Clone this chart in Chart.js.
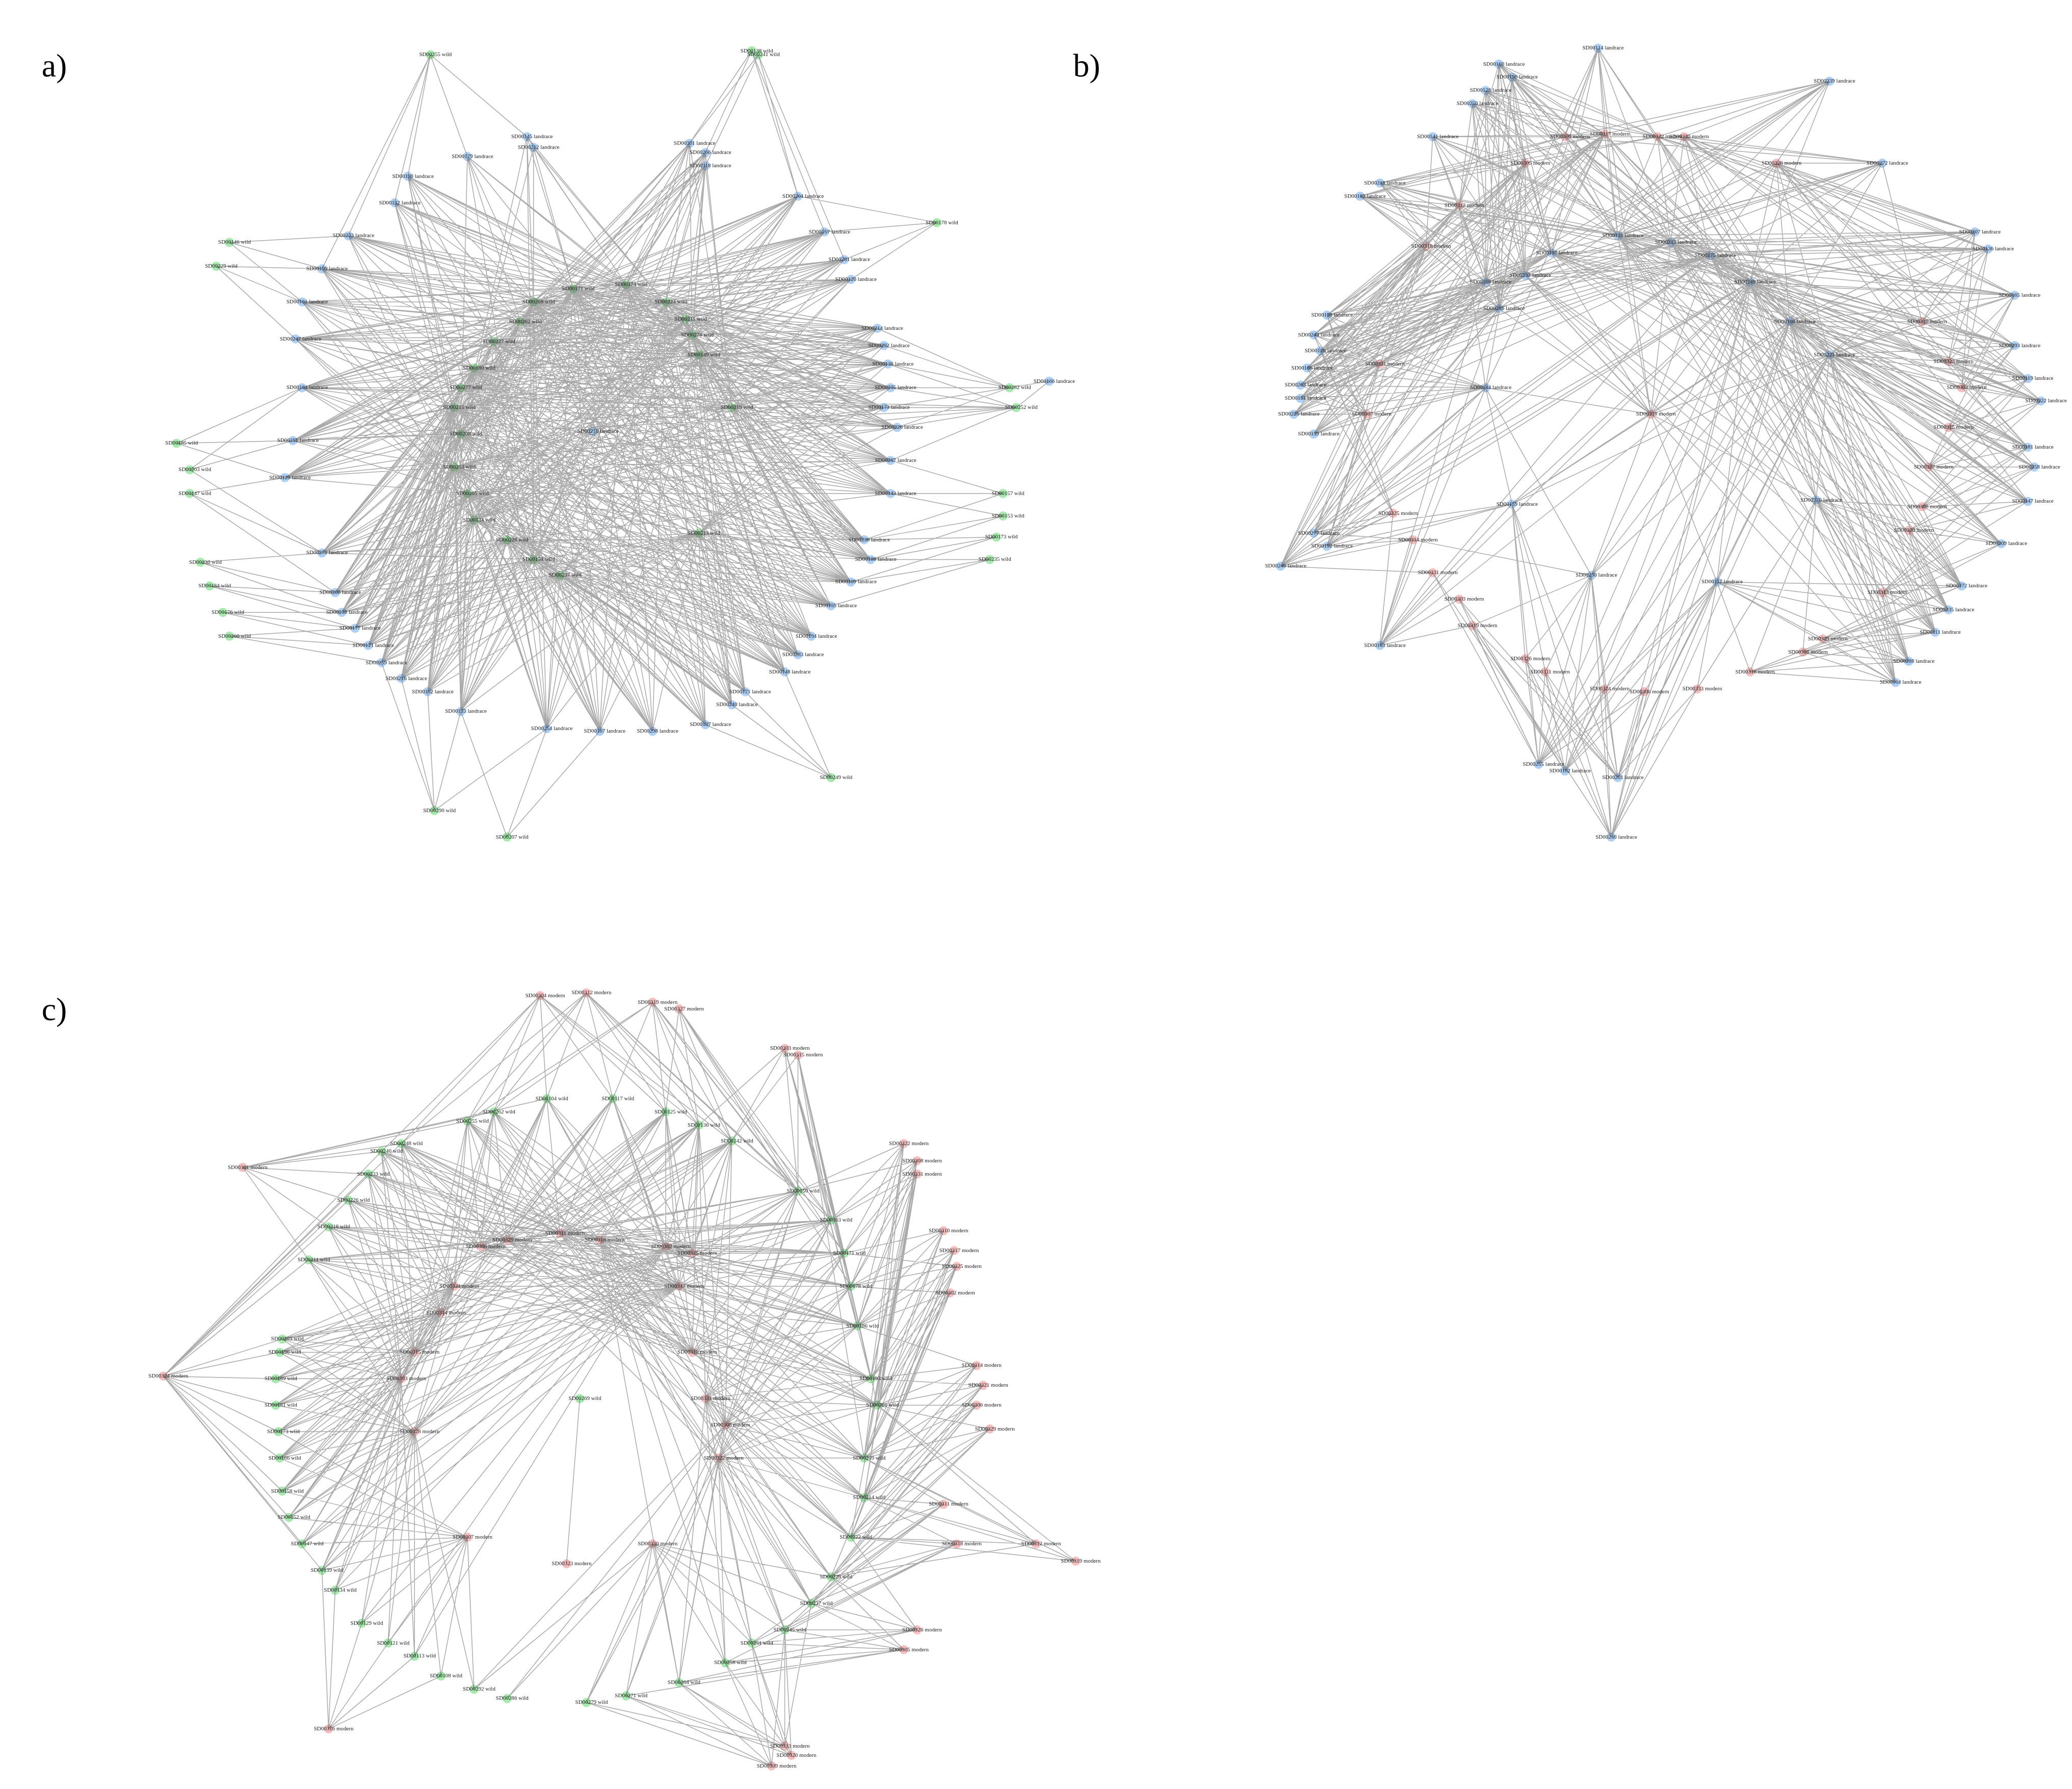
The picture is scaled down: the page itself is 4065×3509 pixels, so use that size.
<!DOCTYPE html>
<html>
<head>
<meta charset="utf-8">
<script src="https://cdn.jsdelivr.net/npm/chart.js@4.4.1/dist/chart.umd.min.js"></script>
<style>
  body { margin: 0; background: #fff; }
</style>
</head>
<body>
<canvas id="net" width="4065" height="3509"></canvas>
<script>
// node tables: [x, y, id] in figure units (1560 x 1347)
var aLandrace = [[395,100,145],[400,108,212],[350,115,179],[518,105,301],[530,112,266],[530,122,118],[305,130,190],[295,150,132],
  [600,145,204],[260,175,233],[620,172,157],[635,193,281],[240,200,199],[640,208,120],[225,225,161],[220,253,247],
  [660,245,214],[665,258,292],[668,272,138],[670,290,105],[665,305,173],[675,320,226],[225,290,184],[218,330,251],
  [212,358,129],[670,345,267],[670,370,143],[650,405,230],[655,420,188],[240,415,271],[640,437,109],[625,455,155],
  [250,445,206],[255,460,238],[265,472,177],[275,485,121],[285,498,259],[610,478,194],[600,492,283],[590,505,148],
  [300,510,216],[320,520,102],[560,520,171],[550,530,240],[345,535,133],[410,548,254],[450,550,167],[490,550,298],
  [530,545,187],[445,323,210],[790,285,166]];
var aWild = [[322,38,255],[565,35,138],[570,38,241],[170,180,146],[160,198,229],[130,332,185],[140,352,203],[140,370,147],
  [148,422,230],[155,440,184],[165,460,176],[170,478,260],[705,165,178],[760,290,282],[765,305,252],[755,370,157],
  [755,387,153],[750,403,173],[745,420,235],[430,215,171],[470,212,174],[500,225,224],[515,238,211],[520,250,276],
  [525,265,149],[400,225,268],[390,240,262],[370,255,227],[355,275,180],[345,290,277],[340,305,215],[345,325,208],
  [340,350,253],[350,370,205],[355,390,134],[380,405,228],[400,420,154],[420,432,297],[525,400,213],[550,305,219],
  [325,610,290],[380,630,207],[625,585,249]];
// links: wild index -> landrace indices
var aLinks = [["0","6,7,9,12,2,0"],["1","3,4,8,10"],["2","3,5,8,11"],["3","9,12,14"],["4","12,14,15"],
  ["5","22,23,24"],["6","22,23,29"],["7","24,29,32"],["8","29,32,33"],["9","32,33,34"],["10","33,34,35"],["11","34,35,36"],
  ["12","8,10,11,13"],["13","16-21,50"],["14","18-25,50"],["15","25,26,27"],["16","26,27,28"],["17","27,28,30"],["18","28,30,31"],
  ["19","0-48"],["20","0-30,37-48"],["21","3-28,40-48"],["22","5-24,30-44"],["23","0-17,25-39"],["24","8-31,40-46"],
  ["25","0-48"],["26","2-40"],["27","6-36,44-48"],["28","9-48"],["29","12-40"],["30","14-44"],["31","0-12,22-48"],
  ["32","15-48,49"],["33","20-48"],["34","3-20,29-46"],["35","25-48"],["36","29-48,0-8"],["37","30-48,10-16"],
  ["38","27-48,16-22"],["39","13-31,3-5"],["40","40,41,44,45,36"],["41","44,45,46"],["42","39,42,43,48"]];

var bLandrace = [[1205,33,114],[1380,58,239],[1130,45,160],[1140,55,196],[1120,65,128],[1110,75,250],[1080,100,141],[1040,135,218],
  [1025,145,183],[1420,120,272],[1490,172,207],[1500,185,136],[1520,220,165],[1520,258,293],[1530,283,119],[1540,300,222],
  [1530,335,181],[1535,350,258],[1530,376,147],[1510,408,209],[1480,440,172],[1470,458,235],[1460,475,111],[1440,497,288],
  [1430,513,164],[1000,235,198],[990,250,244],[995,262,126],[985,275,186],[980,288,263],[980,298,151],[975,310,225],
  [990,325,139],[990,400,277],[1000,410,192],[965,425,246],[1040,485,163],[1200,432,230],[1295,437,117],[1160,575,255],
  [1180,580,182],[1220,585,201],[1215,630,240],[1140,378,159],[1370,375,270],[1220,175,131],[1260,180,213],[1290,190,175],
  [1320,210,249],[1350,240,108],[1380,265,221],[1120,210,168],[1130,230,286],[1120,290,144],[1150,205,232],[1170,188,197]];
var bModern = [[1180,100,309],[1210,98,317],[1250,100,322],[1270,100,330],[1150,120,305],[1340,120,328],[1100,152,312],[1075,183,318],
  [1040,272,321],[1030,310,307],[1050,385,325],[1065,405,314],[1080,430,331],[1100,450,303],[1110,470,319],[1150,495,326],
  [1165,505,311],[1210,518,324],[1240,520,306],[1280,518,333],[1320,505,316],[1360,490,301],[1375,480,329],[1420,445,313],
  [1440,398,320],[1450,380,308],[1455,350,327],[1470,320,315],[1480,290,302],[1470,270,323],[1450,240,310],[1245,310,318]];
var bLinks = [["0","0-9,45-50"],["1","0-8,45-55,25-32"],["2","0-12,45-50"],["3","1,9-15,45-50"],["4","2-8,25-35,51-55"],
  ["5","1,9-18,45-50"],["6","2-8,25-32,51-55"],["7","6,7,8,25-35"],["8","25-35,51-55"],["9","25-35,53"],["10","33-36,25-28"],
  ["11","33-36,37"],["12","35,36,39,40"],["13","36,39,40,41"],["14","36,37,39-42"],["15","37,39-42,43"],["16","37,39-42"],
  ["17","39-42,37,38"],["18","38,39-42"],["19","38,41,42,44"],["20","38,44,20-24"],["21","20-24,44"],["22","19-24,38"],
  ["23","16-24,44"],["24","16-22,44"],["25","14-20,44"],["26","12-19,49,50"],["27","12-18,49,50"],["28","10-16,48-50"],
  ["29","10-16,48-50"],["30","9-14,47-50"],["31","37,38,43,44,45-55,0"]];
// extra landrace-landrace links
var bLinks2 = [["45","0-24"],["46","0-30"],["47","6-36"],["48","0-24,33-44"],["49","9-24,36-44"],["50","10-24,37-44"],
  ["51","0-9,25-36"],["52","0-8,25-36"],["53","25-36,37,43"],["54","0-12,20-32"],["55","0-20,25-30"],["43","33-36,39-42"],
  ["37","39-42"],["38","39-42,20-24"],["44","19-24"]];

var cWild = [[410,828,104],[460,828,117],[500,838,125],[525,848,136],[550,860,142],[600,898,150],[625,920,163],[635,945,171],
  [640,970,178],[645,1000,186],[655,1040,193],[660,1060,201],[650,1100,209],[650,1130,214],[640,1160,222],[625,1190,229],
  [610,1210,237],[590,1230,245],[565,1240,251],[545,1255,258],[510,1270,264],[470,1280,271],[440,1285,279],[380,1282,286],
  [355,1275,292],[330,1265,108],[310,1250,113],[290,1240,121],[270,1225,129],[250,1200,134],[240,1185,139],[225,1165,147],
  [215,1145,152],[210,1125,158],[208,1100,166],[207,1080,173],[205,1060,181],[205,1040,189],[208,1020,196],[210,1010,203],
  [230,950,211],[245,925,218],[260,905,226],[275,885,233],[285,868,240],[300,862,248],[350,845,255],[370,838,262],[435,1055,269]];
var cModern = [[405,750,304],[440,748,312],[490,755,319],[510,760,327],[590,790,303],[600,795,315],[680,862,322],[690,875,308],
  [690,885,331],[710,928,310],[718,943,317],[720,955,325],[715,975,302],[735,1030,314],[740,1045,321],[735,1060,306],
  [745,1078,329],[710,1135,311],[720,1165,318],[690,1230,326],[680,1245,305],[590,1318,313],[595,1325,320],[580,1333,309],
  [245,1305,316],[120,1038,324],[180,880,301],[350,1160,307],[490,1165,330],[425,1180,323],[810,1178,319],[780,1165,312],
  [310,1080,328],[300,1040,303],[310,1020,315],[540,1100,322],[545,1075,308],[530,1055,331],[520,1020,310],[510,970,317],
  [520,945,325],[500,940,302],[330,990,314],[340,970,321],[360,940,306],[380,935,329],[420,930,311],[450,935,318]];
var cLinks = [["0","0-5,44-47"],["1","0-6,45-47"],["2","1-7,46,47"],["3","2-8"],["4","3-10"],["5","4-12"],["6","5-12"],
  ["7","5-13"],["8","6-14"],["9","7-12"],["10","8-14"],["11","7-15"],["12","8-13"],["13","9-14"],["14","10-15"],
  ["15","11-16"],["16","11-17"],["17","12-18"],["18","13-19"],["19","14-20"],["20","15-21"],["21","16-22"],["22","17-21"],
  ["23","17-22"],["24","25-29,30"],["25","30-45"],["26","40-47,0"],["27","24-35"],["28","15-24"],["29","48"],
  ["30","11-14"],["31","11-15"],["32","24-40,0-5"],["33","26-44,0-3"],["34","30-47,0-6"],["35","5-22,45-47"],
  ["36","0-14,20-24"],["37","3-20"],["38","0-12,40-47"],["39","0-10,30-47"],["40","0-9,38-47"],["41","1-12,26-34"],
  ["42","30-47,0-4"],["43","28-47,6-10"],["44","40-47,0-12"],["45","36-47,0-14"],["46","0-16,40-47"],["47","2-20,42-47"]];

var GREEN = 'rgba(150,230,160,0.85)', BLUE = 'rgba(160,200,245,0.85)', RED = 'rgba(245,180,180,0.85)';

function expand(s) {
  var out = [];
  s.split(',').forEach(function(p) {
    var r = p.split('-');
    if (r.length == 2) { for (var i = +r[0]; i <= +r[1]; i++) out.push(i); }
    else out.push(+p);
  });
  return out;
}

function edges(srcNodes, dstNodes, links, list) {
  links.forEach(function(l) {
    var s = srcNodes[+l[0]];
    expand(l[1]).forEach(function(t) {
      var d = dstNodes[t];
      if (!s || !d) return;
      list.push({x: s[0], y: s[1]}, {x: d[0], y: d[1]}, {x: d[0], y: null});
    });
  });
}

var edgePts = [];
edges(aWild, aLandrace, aLinks, edgePts);
edges(bModern, bLandrace, bLinks, edgePts);
edges(bLandrace, bLandrace, bLinks2, edgePts);
edges(cModern, cWild, cLinks, edgePts);

function nodes(arr, kind, color, r) {
  return {
    type: 'scatter', kind: kind,
    data: arr.map(function(n) { return {x: n[0], y: n[1], id: n[2]}; }),
    backgroundColor: color, borderWidth: 0, pointRadius: r
  };
}

var panelLabels = [['a)', 28, 48], ['b)', 808, 48], ['c)', 28, 762]];

var labelPlugin = {
  id: 'labels',
  afterDatasetsDraw: function(chart) {
    var ctx = chart.ctx;
    var xs = chart.scales.x, ys = chart.scales.y;
    ctx.save();
    ctx.fillStyle = '#222';
    ctx.font = '11px "Liberation Serif"';
    ctx.textAlign = 'center';
    ctx.textBaseline = 'middle';
    chart.data.datasets.forEach(function(ds) {
      if (!ds.kind) return;
      ds.data.forEach(function(p) {
        ctx.fillText('SD00' + p.id + ' ' + ds.kind, xs.getPixelForValue(p.x) + 10, ys.getPixelForValue(p.y));
      });
    });
    ctx.font = '64px "Liberation Serif"';
    ctx.fillStyle = '#000';
    ctx.textAlign = 'left';
    panelLabels.forEach(function(l) {
      ctx.fillText(l[0], xs.getPixelForValue(l[1]), ys.getPixelForValue(l[2]));
    });
    ctx.restore();
  }
};

new Chart(document.getElementById('net').getContext('2d'), {
  type: 'scatter',
  data: {
    datasets: [
      {type: 'line', data: edgePts, borderColor: 'rgba(100,100,100,0.55)', borderWidth: 1.5,
       pointRadius: 0, spanGaps: false, fill: false},
      nodes(aLandrace, 'landrace', BLUE, 9),
      nodes(aWild, 'wild', GREEN, 9),
      nodes(bLandrace, 'landrace', BLUE, 9),
      nodes(bModern, 'modern', RED, 9),
      nodes(cWild, 'wild', GREEN, 9),
      nodes(cModern, 'modern', RED, 9)
    ]
  },
  options: {
    responsive: false, animation: false, devicePixelRatio: 1,
    parsing: false, normalized: true,
    layout: {padding: 0},
    plugins: {legend: {display: false}, tooltip: {enabled: false}},
    scales: {
      x: {type: 'linear', min: 0, max: 1560, display: false},
      y: {type: 'linear', min: 0, max: 1347, reverse: true, display: false}
    }
  },
  plugins: [labelPlugin]
});
</script>
</body>
</html>
